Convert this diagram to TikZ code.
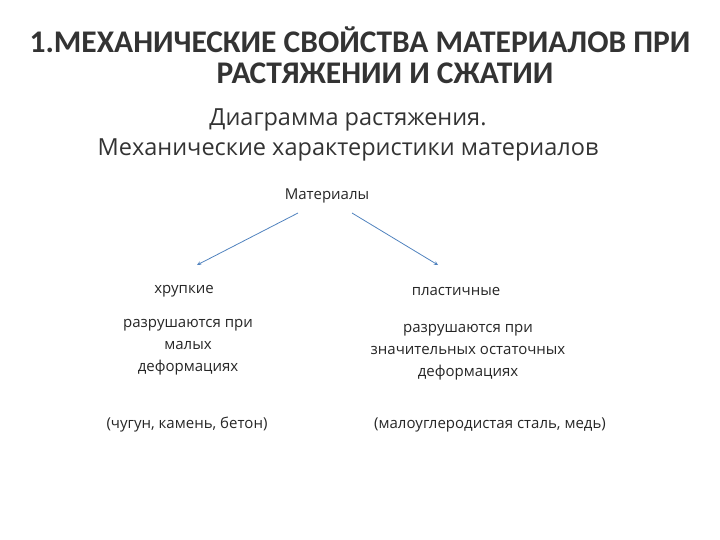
\documentclass[tikz,border=0pt]{standalone}
\usepackage{fontspec}
\setmainfont{Open Sans}
\newfontfamily\titlefont{Carlito}
\definecolor{arrc}{RGB}{80,130,190}
\begin{document}
\begin{tikzpicture}[x=1pt,y=-1pt,
  title/.style={font=\titlefont\fontsize{31.5}{36}\selectfont\bfseries,text=black!80},
  sub/.style={font=\fontsize{23.5}{28}\selectfont,text=black!80},
  small/.style={font=\fontsize{15}{22}\selectfont,align=center,text=black!85},
  arr/.style={->,>=stealth,draw=arrc,thick}]
\useasboundingbox (0,0) rectangle (720,540);
\node[title] (t1) at (360,40) {1.МЕХАНИЧЕСКИЕ СВОЙСТВА МАТЕРИАЛОВ ПРИ};
\node[title] (t2) at (385,73) {РАСТЯЖЕНИИ И СЖАТИИ};
\node[sub] (s1) at (348,120) {Диаграмма растяжения.};
\node[sub] (s2) at (348,150) {Механические характеристики материалов};
\node[small] (m) at (327,196) {Материалы};
\coordinate (a1) at (298,213); \coordinate (b1) at (197,265);
\coordinate (a2) at (352,213); \coordinate (b2) at (438,265);
\draw[arr] (a1) -- (b1);
\draw[arr] (a2) -- (b2);
\node[small] (h) at (184,291) {хрупкие};
\node[small] (p) at (456,291) {пластичные};
\node[small] (hd) at (188,347) {разрушаются при\\малых\\деформациях};
\node[small] (pd) at (468,352) {разрушаются при\\значительных остаточных\\деформациях};
\node[small] (he) at (187,425) {(чугун, камень, бетон)};
\node[small] (pe) at (490,425) {(малоуглеродистая сталь, медь)};
\end{tikzpicture}
\end{document}
